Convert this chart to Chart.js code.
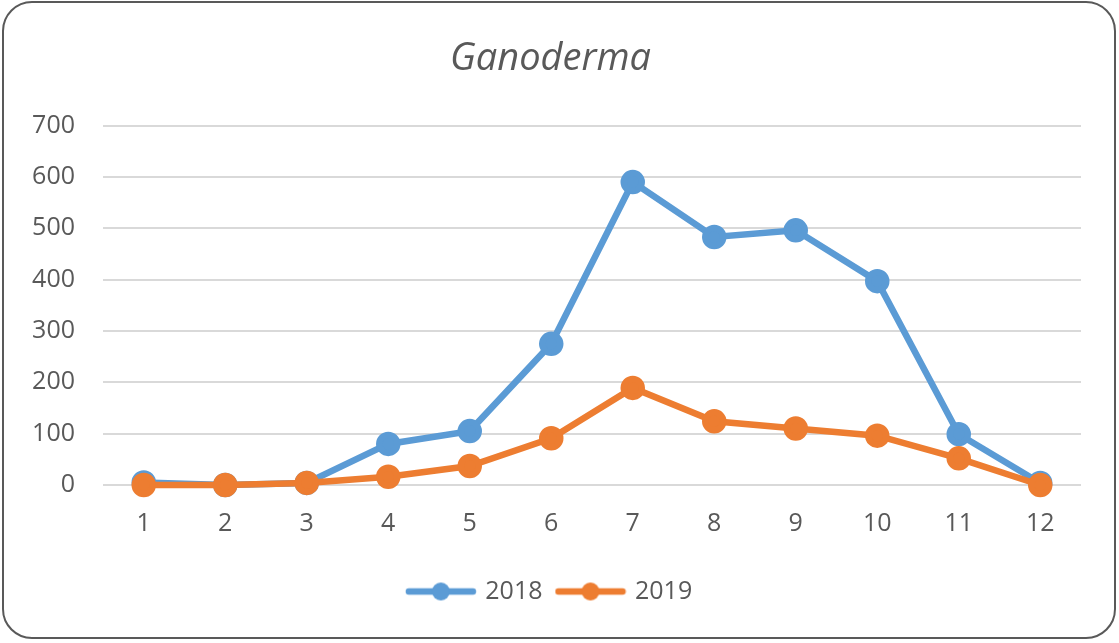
<!DOCTYPE html>
<html>
<head>
<meta charset="utf-8">
<script src="https://cdn.jsdelivr.net/npm/chart.js@4"></script>
<style>
    html, body { margin: 0; padding: 0; background: #fff; }
    #frame {
        position: absolute; left: 2px; top: 1px; width: 1110px; height: 634px;
        border: 2px solid #595959; border-radius: 30px; background: #fff;
    }
    #wrap { position: absolute; left: 0; top: 0; width: 1119px; height: 643px; }
</style>
</head>
<body>
<div id="frame"></div>
<div id="wrap"><canvas id="chart" width="1119" height="643"></canvas></div>
<script>
// data
const months = ['1', '2', '3', '4', '5', '6', '7', '8', '9', '10', '11', '12']
const values2018 = [5, 0, 4, 80, 105, 275, 590, 483, 496, 397, 99, 4]
const values2019 = [0, 0, 4, 16, 37, 91, 189, 124, 110, 96, 52, 0]
const yMax = 700
const yStep = 100

const blue = '#5b9bd5'
const orange = '#ed7d31'
const textColor = '#595959'

// legend marker: line with a dot in the middle
function legendMarker(color) {
    const c = document.createElement('canvas')
    c.width = 72
    c.height = 20
    const ctx = c.getContext('2d')
    ctx.strokeStyle = color
    ctx.lineWidth = 6.5
    ctx.lineCap = 'round'
    ctx.beginPath()
    ctx.moveTo(4, 10)
    ctx.lineTo(68, 10)
    ctx.stroke()
    ctx.fillStyle = color
    ctx.beginPath()
    ctx.arc(36, 10, 9, 0, Math.PI * 2)
    ctx.fill()
    return c
}

Chart.defaults.font.family = '"Open Sans", Lato, sans-serif'

new Chart(document.getElementById('chart'), {
    type: 'line',
    data: {
        labels: months,
        datasets: [{
            label: '2018',
            data: values2018,
            borderColor: blue,
            backgroundColor: blue,
            borderWidth: 6.5,
            pointRadius: 9,
            pointHoverRadius: 9,
            tension: 0,
            clip: false,
            order: 1
        }, {
            label: '2019',
            data: values2019,
            borderColor: orange,
            backgroundColor: orange,
            borderWidth: 6.5,
            pointRadius: 9,
            pointHoverRadius: 9,
            tension: 0,
            clip: false,
            order: 0   // orange drawn on top, like the original
        }]
    },
    options: {
        responsive: false,
        animation: false,
        layout: {
            padding: { left: 20, right: 38, top: 36, bottom: 29 }
        },
        scales: {
            x: {
                offset: true,
                grid: { display: false, drawTicks: false },
                border: { display: false },
                ticks: { color: textColor, font: { size: 25 }, padding: 24 }
            },
            y: {
                min: 0,
                max: yMax,
                grid: { color: '#d9d9d9', lineWidth: 2, drawTicks: false },
                border: { display: false },
                ticks: { stepSize: yStep, color: textColor, font: { size: 25 }, padding: 28 },
                afterFit: scale => { scale.width = 83 }
            }
        },
        plugins: {
            title: {
                display: true,
                text: 'Ganoderma',
                color: textColor,
                font: { size: 38, style: 'italic', weight: 'normal' },
                padding: { top: 0, bottom: 44 }
            },
            legend: {
                position: 'bottom',
                labels: {
                    color: textColor,
                    font: { size: 25 },
                    usePointStyle: true,
                    pointStyleWidth: 64,
                    boxHeight: 20,
                    padding: 16,
                    generateLabels: chart => chart.data.datasets.map((ds, i) => ({
                        text: ds.label,
                        fontColor: textColor,
                        pointStyle: legendMarker(ds.borderColor),
                        datasetIndex: i,
                        lineWidth: 0,
                        hidden: false
                    }))
                }
            },
            tooltip: { enabled: false }
        }
    }
})
</script>
</body>
</html>
